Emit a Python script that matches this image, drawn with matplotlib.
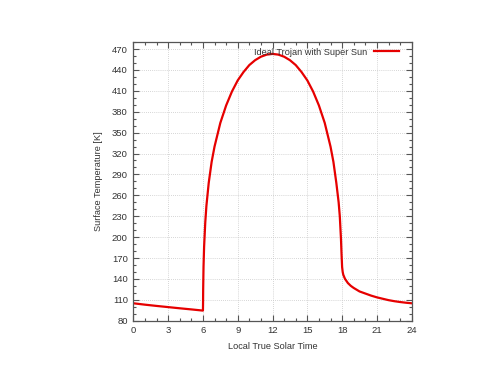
import matplotlib
matplotlib.use('Agg')
import matplotlib.pyplot as plt
from matplotlib.ticker import MultipleLocator

# local true solar time [h] and surface temperature [K]
hours = [0.0, 1.0, 2.0, 3.0, 4.0, 5.0, 6.0,
         6.01, 6.02, 6.05, 6.1, 6.2, 6.3, 6.5, 6.75, 7.0, 7.5, 8.0, 8.5,
         9.0, 9.5, 10.0, 10.5, 11.0, 11.5, 12.0,
         12.5, 13.0, 13.5, 14.0, 14.5, 15.0, 15.5, 16.0, 16.5, 17.0,
         17.25, 17.5, 17.7, 17.8, 17.9, 17.95, 18.0,
         18.05, 18.1, 18.25, 18.5, 18.75, 19.0, 19.5, 20.0, 20.5,
         21.0, 21.5, 22.0, 22.5, 23.0, 23.5, 24.0]
temps = [105.0, 103.0, 101.2, 99.5, 97.8, 96.2, 94.5,
         105.0, 125.0, 157.0, 186.0, 221.0, 245.0, 278.0, 308.0, 330.0, 364.0, 389.0, 409.0,
         425.0, 437.0, 447.0, 454.0, 459.0, 462.0, 463.0,
         462.0, 459.0, 454.0, 447.0, 437.0, 425.0, 409.0, 389.0, 364.0, 330.0,
         308.0, 278.0, 250.0, 230.0, 198.0, 176.0, 157.0,
         150.0, 146.0, 140.0, 134.0, 130.0, 127.0, 122.0, 119.0, 116.0,
         113.5, 111.5, 109.5, 108.0, 106.8, 105.8, 105.0]

plt.rcParams['font.family'] = ['Liberation Sans', 'DejaVu Sans']
txt = '#333333'
edge = '#555555'

fig = plt.figure(figsize=(5.0, 3.86), dpi=100)
ax = fig.add_axes([0.2667, 0.1692, 0.5567, 0.7218])

ax.plot(hours, temps, color='#e60000', lw=1.6, label='Ideal Trojan with Super Sun')

ax.set_xlim(0, 24)
ax.set_ylim(80, 480)
ax.xaxis.set_major_locator(MultipleLocator(3))
ax.xaxis.set_minor_locator(MultipleLocator(1))
ax.set_yticks(range(80, 471, 30))
ax.yaxis.set_minor_locator(MultipleLocator(10))

ax.tick_params(which='both', direction='in', top=True, right=True, color=edge,
               labelsize=6.8, labelcolor=txt, width=0.8)
ax.tick_params(which='major', length=4, pad=4)
ax.tick_params(which='minor', length=2)
for s in ax.spines.values():
    s.set_color(edge)
    s.set_linewidth(0.9)

ax.grid(True, which='major', color='#c8c8c8', linestyle=(0, (1, 1.5)), linewidth=0.6)

ax.set_xlabel('Local True Solar Time', fontsize=6.6, color=txt, labelpad=5)
ax.set_ylabel('Surface Temperature [K]', fontsize=6.6, color=txt, labelpad=6)

leg = ax.legend(loc='upper right', frameon=False, fontsize=6.6, handlelength=2.8,
                handletextpad=0.7, borderaxespad=0.2, markerfirst=False,
                bbox_to_anchor=(0.975, 1.0))
for t in leg.get_texts():
    t.set_color(txt)

fig.savefig('out.png', dpi=100)
